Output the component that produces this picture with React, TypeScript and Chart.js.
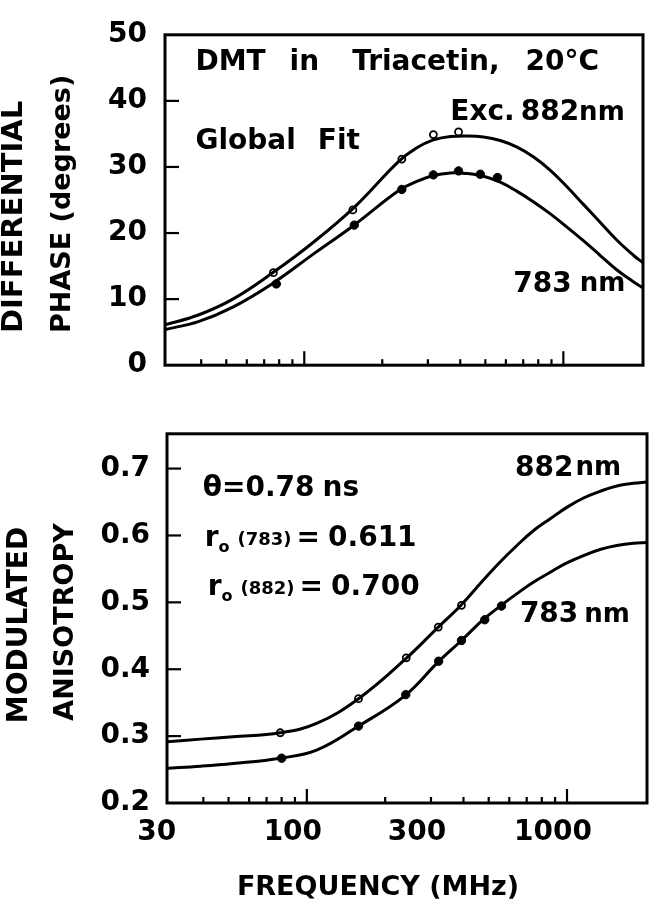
import React, { useEffect, useRef } from "react";
import { Chart, registerables } from "chart.js";

Chart.register(...registerables);

const FONT = "'DejaVu Sans', sans-serif";

// Frequency axis (MHz), logarithmic
const xMin = 29;
const xMax = 2030;
const xTickLabels = [30, 100, 300, 1000];
const xMinorTicks = [40, 50, 60, 70, 80, 90, 200, 300, 400, 500, 600, 700, 800, 900];
const xMajorTicks = [100, 1000];

// Fitted curves, differential phase (sampled from the figure)
const phaseCurveFreq = [29, 39, 53, 75, 110, 157, 231, 272, 315, 366, 425, 492, 571, 663, 768, 891, 1033, 1198, 1389, 1611, 1868, 2030];
const phaseFit882 = [6.1, 7.6, 10.0, 13.9, 18.8, 24.0, 30.8, 32.9, 34.1, 34.6, 34.7, 34.55, 34.0, 33.0, 31.5, 29.5, 27.0, 24.3, 21.6, 18.9, 16.6, 15.5];
const phaseFit783 = [5.4, 6.6, 8.8, 12.3, 17.0, 21.3, 26.4, 27.8, 28.7, 29.1, 29.0, 28.6, 27.7, 26.3, 24.7, 22.9, 20.9, 18.8, 16.6, 14.4, 12.6, 11.7];

// Fitted curves, modulated anisotropy
const anisoCurveFreq = [29, 39, 52, 79, 109, 158, 239, 320, 393, 476, 552, 642, 742, 862, 998, 1157, 1339, 1553, 1800, 2030];
const anisoFit882 = [0.2915, 0.2955, 0.299, 0.305, 0.319, 0.356, 0.415, 0.463, 0.4965, 0.533, 0.56, 0.585, 0.607, 0.625, 0.642, 0.656, 0.666, 0.674, 0.678, 0.68];
const anisoFit783 = [0.252, 0.255, 0.259, 0.267, 0.279, 0.315, 0.361, 0.411, 0.443, 0.474, 0.494, 0.513, 0.53, 0.545, 0.559, 0.57, 0.579, 0.585, 0.5885, 0.5895];

// Measured points
const phaseFreq882 = [76, 154, 238, 315, 394];
const phase882 = [14.0, 23.5, 31.2, 34.9, 35.3];
const phaseFreq783 = [78, 156, 238, 315, 394, 478, 557];
const phase783 = [12.3, 21.2, 26.6, 28.8, 29.4, 28.9, 28.4];

const anisoFreq882 = [79, 158, 241, 320, 393];
const aniso882 = [0.305, 0.356, 0.417, 0.463, 0.4955];
const anisoFreq783 = [80, 158, 240, 321, 393, 483, 560];
const aniso783 = [0.267, 0.315, 0.362, 0.412, 0.443, 0.474, 0.4945];

// Y axes
const phaseMin = 0;
const phaseMax = 50;
const phaseStep = 10;
const phaseTicks = [10, 20, 30, 40];
const anisoMin = 0.2;
const anisoMax = 0.752;
const anisoStep = 0.1;
const anisoTicks = [0.3, 0.4, 0.5, 0.6, 0.7];

const pts = (xs: number[], ys: number[]) => xs.map((x, i) => ({ x, y: ys[i] }));

const framePlugin = {
  id: "frame",
  afterDraw(chart: any, _args: any, opts: any) {
    const { ctx, chartArea: a, scales } = chart;
    ctx.save();
    ctx.strokeStyle = "#000";
    ctx.lineWidth = 3;
    ctx.strokeRect(a.left, a.top, a.right - a.left, a.bottom - a.top);
    ctx.lineWidth = 2.2;
    const seg = (x1: number, y1: number, x2: number, y2: number) => {
      ctx.beginPath();
      ctx.moveTo(x1, y1);
      ctx.lineTo(x2, y2);
      ctx.stroke();
    };
    for (const v of opts.xMinor || []) {
      const px = scales.x.getPixelForValue(v);
      seg(px, a.bottom, px, a.bottom - 6);
    }
    for (const v of opts.xMajor || []) {
      const px = scales.x.getPixelForValue(v);
      seg(px, a.bottom, px, a.bottom - 14);
    }
    for (const v of opts.yMajor || []) {
      const py = scales.y.getPixelForValue(v);
      seg(a.left, py, a.left + 14, py);
    }
    ctx.restore();
  },
};

const notesPlugin = {
  id: "notes",
  afterDraw(chart: any, _args: any, opts: any) {
    const { ctx, scales } = chart;
    ctx.save();
    ctx.fillStyle = "#000";
    ctx.textBaseline = "middle";
    for (const item of opts.items || []) {
      let x = scales.x.getPixelForValue(item.x);
      const y = scales.y.getPixelForValue(item.y);
      for (const p of item.parts) {
        ctx.font = `bold ${p.size}px ${FONT}`;
        ctx.textAlign = "left";
        ctx.fillText(p.t, x, y + (p.dy || 0));
        x += ctx.measureText(p.t).width + (p.gap || 0);
      }
    }
    for (const t of opts.titles || []) {
      ctx.save();
      ctx.font = `bold ${t.size}px ${FONT}`;
      ctx.translate(t.x, t.y);
      ctx.rotate(t.rot || 0);
      ctx.textAlign = t.align;
      ctx.textBaseline = "middle";
      ctx.fillText(t.text, 0, 0);
      ctx.restore();
    }
    ctx.restore();
  },
};

const curveDs = (data: any[]) => ({
  data,
  showLine: true,
  borderColor: "#000",
  borderWidth: 3,
  pointRadius: 0,
  tension: 0.4,
  fill: false,
});

const openDs = (data: any[]) => ({
  data,
  showLine: false,
  pointRadius: 3.5,
  pointBorderWidth: 1.8,
  pointBorderColor: "#000",
  pointBackgroundColor: "#fff",
});

const filledDs = (data: any[]) => ({
  data,
  showLine: false,
  pointRadius: 4.2,
  pointBorderWidth: 1,
  pointBorderColor: "#000",
  pointBackgroundColor: "#000",
});

const tickFont = { family: FONT, size: 28, weight: "bold" as const };
const S = 28;

export default function App() {
  const topRef = useRef<HTMLCanvasElement>(null);
  const botRef = useRef<HTMLCanvasElement>(null);

  useEffect(() => {
    const top = new Chart(topRef.current!, {
      type: "scatter",
      data: {
        datasets: [
          curveDs(pts(phaseCurveFreq, phaseFit882)),
          curveDs(pts(phaseCurveFreq, phaseFit783)),
          openDs(pts(phaseFreq882, phase882)),
          filledDs(pts(phaseFreq783, phase783)),
        ],
      },
      plugins: [framePlugin, notesPlugin],
      options: {
        animation: false,
        responsive: false,
        maintainAspectRatio: false,
        devicePixelRatio: 1,
        layout: { padding: { top: 13, right: 11, bottom: 17, left: 0 } },
        plugins: {
          legend: { display: false },
          tooltip: { enabled: false },
          frame: { xMinor: xMinorTicks, xMajor: xMajorTicks, yMajor: phaseTicks },
          notes: {
            items: [
              {
                x: 38,
                y: 45.7,
                parts: [
                  { t: "DMT", size: S, gap: 24 },
                  { t: "in", size: S, gap: 33 },
                  { t: "Triacetin,", size: S, gap: 26 },
                  { t: "20°C", size: S },
                ],
              },
              {
                x: 366,
                y: 38.2,
                parts: [
                  { t: "Exc.", size: S, gap: 6 },
                  { t: "882", size: S },
                  { t: "nm", size: 26 },
                ],
              },
              { x: 38, y: 33.8, parts: [{ t: "Global", size: S, gap: 22 }, { t: "Fit", size: S }] },
              { x: 641, y: 12.2, parts: [{ t: "783", size: S, gap: 8 }, { t: "nm", size: 26 }] },
            ],
            titles: [
              { text: "DIFFERENTIAL", x: 14, y: 333, rot: -Math.PI / 2, align: "left", size: 29 },
              { text: "PHASE (degrees)", x: 63, y: 333, rot: -Math.PI / 2, align: "left", size: 27 },
            ],
          },
        } as any,
        scales: {
          x: {
            type: "logarithmic",
            min: xMin,
            max: xMax,
            display: false,
          },
          y: {
            type: "linear",
            min: phaseMin,
            max: phaseMax,
            grid: { display: false, drawTicks: false },
            border: { display: false },
            ticks: { stepSize: phaseStep, font: tickFont, color: "#000", padding: 18 },
            afterFit: (s: any) => {
              s.width = 165;
            },
          },
        },
      },
    });

    const bot = new Chart(botRef.current!, {
      type: "scatter",
      data: {
        datasets: [
          curveDs(pts(anisoCurveFreq, anisoFit882)),
          curveDs(pts(anisoCurveFreq, anisoFit783)),
          openDs(pts(anisoFreq882, aniso882)),
          filledDs(pts(anisoFreq783, aniso783)),
        ],
      },
      plugins: [framePlugin, notesPlugin],
      options: {
        animation: false,
        responsive: false,
        maintainAspectRatio: false,
        devicePixelRatio: 1,
        layout: { padding: { top: 33, right: 7, bottom: 0, left: 0 } },
        plugins: {
          legend: { display: false },
          tooltip: { enabled: false },
          frame: { xMinor: xMinorTicks, xMajor: xMajorTicks, yMajor: anisoTicks },
          notes: {
            items: [
              { x: 39.8, y: 0.67, parts: [{ t: "θ=0.78", size: S, gap: 8 }, { t: "ns", size: S }] },
              {
                x: 40.5,
                y: 0.595,
                parts: [
                  { t: "r", size: S },
                  { t: "o", size: 16, dy: 9, gap: 8 },
                  { t: "(783)", size: 18, dy: 2, gap: 5 },
                  { t: "=", size: S, gap: 8 },
                  { t: "0.611", size: S },
                ],
              },
              {
                x: 41.6,
                y: 0.522,
                parts: [
                  { t: "r", size: S },
                  { t: "o", size: 16, dy: 9, gap: 8 },
                  { t: "(882)", size: 18, dy: 2, gap: 5 },
                  { t: "=", size: S, gap: 8 },
                  { t: "0.700", size: S },
                ],
              },
              { x: 631, y: 0.7, parts: [{ t: "882", size: S, gap: 2 }, { t: "nm", size: 26 }] },
              { x: 659, y: 0.481, parts: [{ t: "783", size: S, gap: 6 }, { t: "nm", size: 26 }] },
            ],
            titles: [
              { text: "MODULATED", x: 20, y: 225, rot: -Math.PI / 2, align: "center", size: 28 },
              { text: "ANISOTROPY", x: 66, y: 222, rot: -Math.PI / 2, align: "center", size: 27 },
              { text: "FREQUENCY (MHz)", x: 378, y: 488, rot: 0, align: "center", size: 27 },
            ],
          },
        } as any,
        scales: {
          x: {
            type: "logarithmic",
            min: xMin,
            max: xMax,
            grid: { display: false, drawTicks: false },
            border: { display: false },
            afterBuildTicks: (s: any) => {
              s.ticks = xTickLabels.map((v) => ({ value: v }));
            },
            ticks: {
              font: tickFont,
              color: "#000",
              padding: 13,
              labelOffset: -14,
              autoSkip: false,
              maxRotation: 0,
              callback: (v: any) => String(v),
            },
            afterFit: (s: any) => {
              s.height = 97;
            },
          },
          y: {
            type: "linear",
            min: anisoMin,
            max: anisoMax,
            grid: { display: false, drawTicks: false },
            border: { display: false },
            ticks: {
              stepSize: anisoStep,
              includeBounds: false,
              font: tickFont,
              color: "#000",
              padding: 17,
              callback: (v: any) => Number(v).toFixed(1),
            },
            afterFit: (s: any) => {
              s.width = 167;
            },
          },
        },
      },
    });

    return () => {
      top.destroy();
      bot.destroy();
    };
  }, []);

  return (
    <div style={{ position: "absolute", left: 0, top: 0, width: 654, height: 900, background: "#fff" }}>
      <canvas ref={topRef} width={654} height={400} style={{ position: "absolute", left: 0, top: 0 }} />
      <canvas ref={botRef} width={654} height={500} style={{ position: "absolute", left: 0, top: 400 }} />
    </div>
  );
}
